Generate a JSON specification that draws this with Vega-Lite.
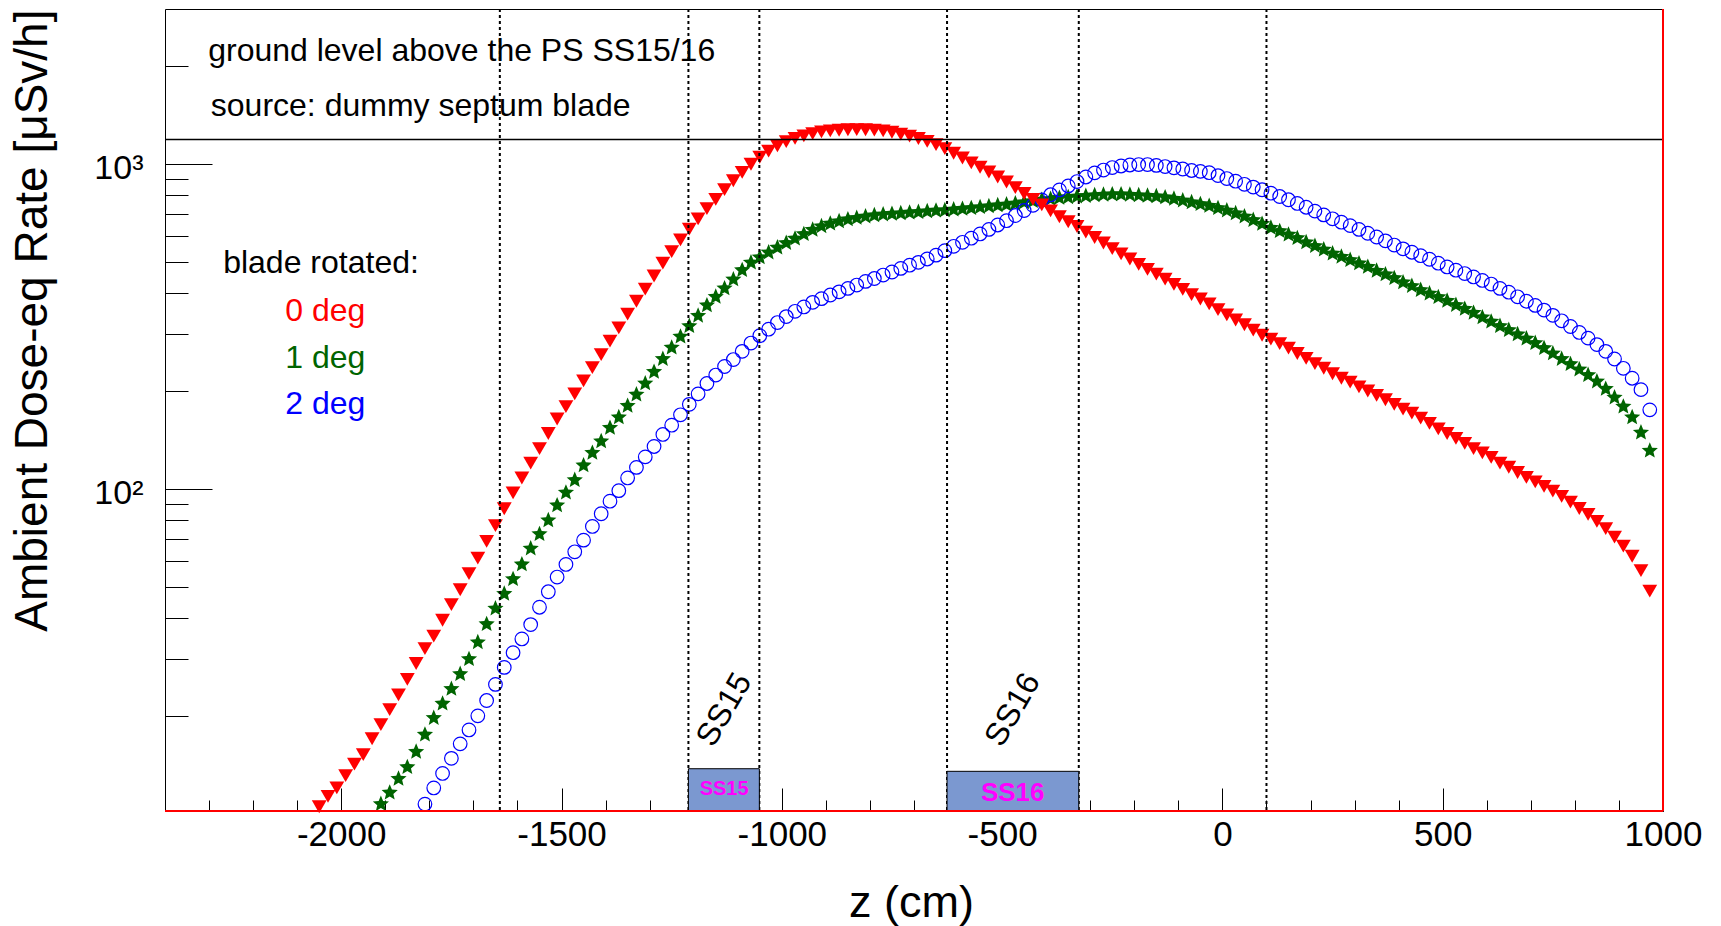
{
  "$schema": "https://vega.github.io/schema/vega-lite/v6.json",
  "width": 1498,
  "height": 802,
  "autosize": "none",
  "padding": {"left": 165, "top": 9, "right": 58, "bottom": 115},
  "background": "#ffffff",
  "config": {"view": {"stroke": "#000000", "strokeWidth": 1}, "font": "Liberation Sans"},
  "resolve": {"axis": {"x": "independent", "y": "independent"}},
  "datasets": {
    "red": [{"z":-2050,"v":10.5},{"z":-2030,"v":11.3},{"z":-2010,"v":12.0},{"z":-1990,"v":13.1},{"z":-1970,"v":14.2},{"z":-1950,"v":15.2},{"z":-1930,"v":17.0},{"z":-1910,"v":18.8},{"z":-1890,"v":20.9},{"z":-1870,"v":23.2},{"z":-1850,"v":25.9},{"z":-1830,"v":29.0},{"z":-1810,"v":32.2},{"z":-1790,"v":35.2},{"z":-1770,"v":39.4},{"z":-1750,"v":44.0},{"z":-1730,"v":48.9},{"z":-1710,"v":54.8},{"z":-1690,"v":61.2},{"z":-1670,"v":68.9},{"z":-1650,"v":77.0},{"z":-1630,"v":86.8},{"z":-1610,"v":97.2},{"z":-1590,"v":108},{"z":-1570,"v":120},{"z":-1550,"v":133},{"z":-1530,"v":148},{"z":-1510,"v":164},{"z":-1490,"v":179},{"z":-1470,"v":196},{"z":-1450,"v":215},{"z":-1430,"v":236},{"z":-1410,"v":259},{"z":-1390,"v":285},{"z":-1370,"v":313},{"z":-1350,"v":345},{"z":-1330,"v":378},{"z":-1310,"v":412},{"z":-1290,"v":452},{"z":-1270,"v":495},{"z":-1250,"v":537},{"z":-1230,"v":584},{"z":-1210,"v":630},{"z":-1190,"v":678},{"z":-1170,"v":729},{"z":-1150,"v":778},{"z":-1130,"v":834},{"z":-1110,"v":888},{"z":-1090,"v":942},{"z":-1070,"v":998},{"z":-1050,"v":1049},{"z":-1030,"v":1095},{"z":-1010,"v":1137},{"z":-990,"v":1172},{"z":-970,"v":1199},{"z":-950,"v":1221},{"z":-930,"v":1240},{"z":-910,"v":1255},{"z":-890,"v":1264},{"z":-870,"v":1270},{"z":-850,"v":1275},{"z":-830,"v":1276},{"z":-810,"v":1275},{"z":-790,"v":1271},{"z":-770,"v":1264},{"z":-750,"v":1252},{"z":-730,"v":1236},{"z":-710,"v":1218},{"z":-690,"v":1198},{"z":-670,"v":1174},{"z":-650,"v":1147},{"z":-630,"v":1115},{"z":-610,"v":1079},{"z":-590,"v":1043},{"z":-570,"v":1008},{"z":-550,"v":977},{"z":-530,"v":945},{"z":-510,"v":912},{"z":-490,"v":880},{"z":-470,"v":846},{"z":-450,"v":811},{"z":-430,"v":778},{"z":-410,"v":748},{"z":-390,"v":717},{"z":-370,"v":688},{"z":-350,"v":664},{"z":-330,"v":642},{"z":-310,"v":617},{"z":-290,"v":594},{"z":-270,"v":571},{"z":-250,"v":549},{"z":-230,"v":529},{"z":-210,"v":510},{"z":-190,"v":491},{"z":-170,"v":474},{"z":-150,"v":458},{"z":-130,"v":442},{"z":-110,"v":426},{"z":-90,"v":411},{"z":-70,"v":396},{"z":-50,"v":384},{"z":-30,"v":371},{"z":-10,"v":356},{"z":10,"v":343},{"z":30,"v":331},{"z":50,"v":320},{"z":70,"v":308},{"z":90,"v":297},{"z":110,"v":289},{"z":130,"v":280},{"z":150,"v":271},{"z":170,"v":261},{"z":190,"v":252},{"z":210,"v":243},{"z":230,"v":235},{"z":250,"v":226},{"z":270,"v":219},{"z":290,"v":213},{"z":310,"v":206},{"z":330,"v":200},{"z":350,"v":194},{"z":370,"v":188},{"z":390,"v":182},{"z":410,"v":176},{"z":430,"v":171},{"z":450,"v":165},{"z":470,"v":159},{"z":490,"v":153},{"z":510,"v":148},{"z":530,"v":143},{"z":550,"v":138},{"z":570,"v":133},{"z":590,"v":129},{"z":610,"v":125},{"z":630,"v":120},{"z":650,"v":116.5},{"z":670,"v":112.3},{"z":690,"v":108.4},{"z":710,"v":105},{"z":730,"v":101.7},{"z":750,"v":98.4},{"z":770,"v":94.8},{"z":790,"v":91},{"z":810,"v":87},{"z":830,"v":83.4},{"z":850,"v":79.4},{"z":870,"v":75.4},{"z":890,"v":71},{"z":910,"v":66.6},{"z":930,"v":62},{"z":950,"v":56},{"z":970,"v":48.4}],
    "green": [{"z":-1910,"v":10.7},{"z":-1890,"v":11.6},{"z":-1870,"v":12.8},{"z":-1850,"v":13.9},{"z":-1830,"v":15.5},{"z":-1810,"v":17.5},{"z":-1790,"v":19.7},{"z":-1770,"v":21.8},{"z":-1750,"v":24.2},{"z":-1730,"v":26.9},{"z":-1710,"v":29.9},{"z":-1690,"v":33.7},{"z":-1670,"v":38.3},{"z":-1650,"v":42.8},{"z":-1630,"v":47.5},{"z":-1610,"v":52.7},{"z":-1590,"v":58.5},{"z":-1570,"v":65.5},{"z":-1550,"v":72.5},{"z":-1530,"v":80},{"z":-1510,"v":88.9},{"z":-1490,"v":97.3},{"z":-1470,"v":106.4},{"z":-1450,"v":118},{"z":-1430,"v":129},{"z":-1410,"v":140},{"z":-1390,"v":154},{"z":-1370,"v":166},{"z":-1350,"v":180},{"z":-1330,"v":195},{"z":-1310,"v":211},{"z":-1290,"v":229},{"z":-1270,"v":251},{"z":-1250,"v":272},{"z":-1230,"v":294},{"z":-1210,"v":317},{"z":-1190,"v":341},{"z":-1170,"v":367},{"z":-1150,"v":390},{"z":-1130,"v":414},{"z":-1110,"v":441},{"z":-1090,"v":471},{"z":-1070,"v":497},{"z":-1050,"v":516},{"z":-1030,"v":534},{"z":-1010,"v":553},{"z":-990,"v":571},{"z":-970,"v":589},{"z":-950,"v":608},{"z":-930,"v":627},{"z":-910,"v":643},{"z":-890,"v":655},{"z":-870,"v":666},{"z":-850,"v":675},{"z":-830,"v":682},{"z":-810,"v":689},{"z":-790,"v":695},{"z":-770,"v":699},{"z":-750,"v":702},{"z":-730,"v":705},{"z":-710,"v":708},{"z":-690,"v":711},{"z":-670,"v":715},{"z":-650,"v":718},{"z":-630,"v":720},{"z":-610,"v":724},{"z":-590,"v":727},{"z":-570,"v":731},{"z":-550,"v":736},{"z":-530,"v":741},{"z":-510,"v":746},{"z":-490,"v":750},{"z":-470,"v":755},{"z":-450,"v":762},{"z":-430,"v":768},{"z":-410,"v":775},{"z":-390,"v":780},{"z":-370,"v":786},{"z":-350,"v":790},{"z":-330,"v":794},{"z":-310,"v":797},{"z":-290,"v":801},{"z":-270,"v":804},{"z":-250,"v":806},{"z":-230,"v":806},{"z":-210,"v":804},{"z":-190,"v":801},{"z":-170,"v":798},{"z":-150,"v":795},{"z":-130,"v":789},{"z":-110,"v":781},{"z":-90,"v":772},{"z":-70,"v":762},{"z":-50,"v":752},{"z":-30,"v":743},{"z":-10,"v":731},{"z":10,"v":719},{"z":30,"v":705},{"z":50,"v":689},{"z":70,"v":672},{"z":90,"v":654},{"z":110,"v":636},{"z":130,"v":621},{"z":150,"v":606},{"z":170,"v":591},{"z":190,"v":574},{"z":210,"v":559},{"z":230,"v":545},{"z":250,"v":530},{"z":270,"v":518},{"z":290,"v":506},{"z":310,"v":494},{"z":330,"v":482},{"z":350,"v":469},{"z":370,"v":457},{"z":390,"v":445},{"z":410,"v":432},{"z":430,"v":421},{"z":450,"v":409},{"z":470,"v":399},{"z":490,"v":389},{"z":510,"v":379},{"z":530,"v":368},{"z":550,"v":358},{"z":570,"v":348},{"z":590,"v":337},{"z":610,"v":327},{"z":630,"v":317},{"z":650,"v":308},{"z":670,"v":299},{"z":690,"v":290},{"z":710,"v":281},{"z":730,"v":271},{"z":750,"v":261},{"z":770,"v":251},{"z":790,"v":242},{"z":810,"v":233},{"z":830,"v":224},{"z":850,"v":214},{"z":870,"v":203},{"z":890,"v":191},{"z":910,"v":179},{"z":930,"v":166},{"z":950,"v":149},{"z":970,"v":131}],
    "blue": [{"z":-1810,"v":10.7},{"z":-1790,"v":12.0},{"z":-1770,"v":13.3},{"z":-1750,"v":14.8},{"z":-1730,"v":16.4},{"z":-1710,"v":18.1},{"z":-1690,"v":20.0},{"z":-1670,"v":22.3},{"z":-1650,"v":25.0},{"z":-1630,"v":28.2},{"z":-1610,"v":31.3},{"z":-1590,"v":34.5},{"z":-1570,"v":38.2},{"z":-1550,"v":43.2},{"z":-1530,"v":48.2},{"z":-1510,"v":53.5},{"z":-1490,"v":58.5},{"z":-1470,"v":64.0},{"z":-1450,"v":69.5},{"z":-1430,"v":76.6},{"z":-1410,"v":83.8},{"z":-1390,"v":91.6},{"z":-1370,"v":98.7},{"z":-1350,"v":108},{"z":-1330,"v":116.4},{"z":-1310,"v":125.4},{"z":-1290,"v":135},{"z":-1270,"v":147},{"z":-1250,"v":157},{"z":-1230,"v":169},{"z":-1210,"v":182},{"z":-1190,"v":196},{"z":-1170,"v":211},{"z":-1150,"v":224},{"z":-1130,"v":238},{"z":-1110,"v":250},{"z":-1090,"v":265},{"z":-1070,"v":281},{"z":-1050,"v":296},{"z":-1030,"v":310},{"z":-1010,"v":325},{"z":-990,"v":339},{"z":-970,"v":352},{"z":-950,"v":363},{"z":-930,"v":375},{"z":-910,"v":385},{"z":-890,"v":395},{"z":-870,"v":404},{"z":-850,"v":414},{"z":-830,"v":424},{"z":-810,"v":435},{"z":-790,"v":444},{"z":-770,"v":455},{"z":-750,"v":465},{"z":-730,"v":477},{"z":-710,"v":488},{"z":-690,"v":498},{"z":-670,"v":510},{"z":-650,"v":524},{"z":-630,"v":541},{"z":-610,"v":558},{"z":-590,"v":574},{"z":-570,"v":591},{"z":-550,"v":609},{"z":-530,"v":629},{"z":-510,"v":649},{"z":-490,"v":669},{"z":-470,"v":694},{"z":-450,"v":719},{"z":-430,"v":746},{"z":-410,"v":775},{"z":-390,"v":804},{"z":-370,"v":832},{"z":-350,"v":856},{"z":-330,"v":883},{"z":-310,"v":912},{"z":-290,"v":939},{"z":-270,"v":958},{"z":-250,"v":975},{"z":-230,"v":986},{"z":-210,"v":993},{"z":-190,"v":996},{"z":-170,"v":996},{"z":-150,"v":990},{"z":-130,"v":982},{"z":-110,"v":973},{"z":-90,"v":965},{"z":-70,"v":955},{"z":-50,"v":949},{"z":-30,"v":940},{"z":-10,"v":921},{"z":10,"v":902},{"z":30,"v":885},{"z":50,"v":866},{"z":70,"v":849},{"z":90,"v":833},{"z":110,"v":813},{"z":130,"v":794},{"z":150,"v":776},{"z":170,"v":756},{"z":190,"v":736},{"z":210,"v":716},{"z":230,"v":697},{"z":250,"v":678},{"z":270,"v":662},{"z":290,"v":646},{"z":310,"v":629},{"z":330,"v":612},{"z":350,"v":596},{"z":370,"v":580},{"z":390,"v":563},{"z":410,"v":548},{"z":430,"v":535},{"z":450,"v":522},{"z":470,"v":509},{"z":490,"v":495},{"z":510,"v":482},{"z":530,"v":471},{"z":550,"v":460},{"z":570,"v":449},{"z":590,"v":438},{"z":610,"v":427},{"z":630,"v":414},{"z":650,"v":403},{"z":670,"v":390},{"z":690,"v":378},{"z":710,"v":367},{"z":730,"v":355},{"z":750,"v":342},{"z":770,"v":329},{"z":790,"v":316},{"z":810,"v":303},{"z":830,"v":291},{"z":850,"v":278},{"z":870,"v":265},{"z":890,"v":251},{"z":910,"v":235},{"z":930,"v":219},{"z":950,"v":202},{"z":970,"v":175}],
    "vlines": [{"z":-1640},{"z":-1212},{"z":-1051},{"z":-625},{"z":-326},{"z":100}],
    "boxes": [{"n":"SS15","z1":-1212,"z2":-1051,"zc":-1131,"top":13.75,"mid":11.9,"lab":20.9},{"n":"SS16","z1":-625,"z2":-326,"zc":-476,"top":13.5,"mid":11.6,"lab":20.9}],
    "notes": [{"z":-2302,"v":2070,"t":"ground level above the PS SS15/16"},{"z":-2296,"v":1402,"t":"source: dummy septum blade"},{"z":-2268,"v":462,"t":"blade rotated:"}],
    "leg": [{"z":-2127,"v":329,"s":"0 deg"},{"z":-2127,"v":235.6,"s":"1 deg"},{"z":-2127,"v":169.4,"s":"2 deg"}]
  },
  "layer": [
    {
      "data": {"name": "green"},
      "mark": {"type": "point", "shape": "M0,-1L0.264,-0.364L0.951,-0.309L0.428,0.139L0.588,0.809L0,0.45L-0.588,0.809L-0.428,0.139L-0.951,-0.309L-0.264,-0.364Z", "filled": true, "color": "#006400", "size": 290, "opacity": 1, "strokeWidth": 0},
      "encoding": {
        "x": {"field": "z", "type": "quantitative", "scale": {"domain": [-2400, 1000], "nice": false, "zero": false},
          "axis": {
            "orient": "bottom",
            "title": "z (cm)",
            "values": [-2000, -1500, -1000, -500, 0, 500, 1000],
            "labelExpr": "'' + datum.value",
            "domain": false, "grid": false, "ticks": false,
            "labelFont": "Liberation Sans", "labelFontSize": 35, "labelColor": "#000000",
            "labelPadding": 6, "labelOverlap": false, "labelFlush": false, "labelBound": false,
            "titleFont": "Liberation Sans", "titleFontSize": 45, "titleFontWeight": "normal", "titleColor": "#000000",
            "titleX": 746, "titleY": 105, "titleBaseline": "alphabetic", "titleAlign": "center"
          }},
        "y": {"field": "v", "type": "quantitative", "scale": {"type": "log", "domain": [10.19, 3000], "nice": false},
          "axis": {
            "orient": "left",
            "title": "Ambient Dose-eq Rate [μSv/h]",
            "values": [100, 1000],
            "labelExpr": "datum.value === 100 ? '10²' : '10³'",
            "domain": false, "grid": false, "ticks": false,
            "labelFont": "Liberation Sans", "labelFontSize": 34, "labelColor": "#000000",
            "labelPadding": 22, "labelOffset": 5, "labelOverlap": false, "labelFlush": false, "labelBound": false, "labelBaseline": "middle", "labelAlign": "right",
            "titleFont": "Liberation Sans", "titleFontSize": 46, "titleFontWeight": "normal", "titleColor": "#000000",
            "titleX": -119, "titleY": 0, "titleAngle": 270, "titleAlign": "right", "titleBaseline": "alphabetic"
          }}
      }
    },
    {
      "data": {"name": "blue"},
      "mark": {"type": "point", "shape": "circle", "filled": false, "color": "#0000ff", "size": 185, "opacity": 1, "strokeWidth": 1.2},
      "encoding": {
        "x": {"field": "z", "type": "quantitative",
          "axis": {"orient": "bottom", "title": null, "labels": false, "domain": false, "grid": false, "ticks": true, "tickSize": -23, "tickColor": "#000000", "tickWidth": 1,
            "values": [-2000, -1500, -1000, -500, 0, 500, 1000]}},
        "y": {"field": "v", "type": "quantitative",
          "axis": {"orient": "left", "title": null, "labels": false, "domain": false, "grid": false, "ticks": true, "tickSize": -47, "tickColor": "#000000", "tickWidth": 1,
            "values": [100, 1000]}}
      }
    },
    {
      "data": {"name": "red"},
      "mark": {"type": "point", "shape": "triangle-down", "filled": true, "color": "#ff0000", "size": 220, "opacity": 1, "strokeWidth": 0},
      "encoding": {
        "x": {"field": "z", "type": "quantitative",
          "axis": {"orient": "bottom", "title": null, "labels": false, "domain": false, "grid": false, "ticks": true, "tickSize": -11, "tickColor": "#000000", "tickWidth": 1,
            "values": [-2300, -2200, -2100, -1900, -1800, -1700, -1600, -1400, -1300, -1200, -1100, -900, -800, -700, -600, -400, -300, -200, -100, 100, 200, 300, 400, 600, 700, 800, 900]}},
        "y": {"field": "v", "type": "quantitative",
          "axis": {"orient": "left", "title": null, "labels": false, "domain": false, "grid": false, "ticks": true, "tickSize": -23, "tickColor": "#000000", "tickWidth": 1,
            "values": [20, 30, 40, 50, 60, 70, 80, 90, 200, 300, 400, 500, 600, 700, 800, 900, 2000]}}
      }
    },
    {
      "data": {"values": [{}]},
      "mark": {"type": "rule", "color": "#000000", "strokeWidth": 1.5},
      "encoding": {"y": {"datum": 1190, "type": "quantitative", "axis": null}}
    },
    {
      "data": {"name": "vlines"},
      "mark": {"type": "rule", "color": "#000000", "strokeWidth": 2, "strokeDash": [3, 3]},
      "encoding": {"x": {"field": "z", "type": "quantitative", "axis": null}}
    },
    {
      "data": {"name": "boxes"},
      "mark": {"type": "rect", "fill": "#000000", "xOffset": 3, "yOffset": 3},
      "encoding": {
        "x": {"field": "z1", "type": "quantitative", "axis": null},
        "x2": {"field": "z2"},
        "y": {"field": "top", "type": "quantitative", "axis": null},
        "y2": {"datum": 10.19}
      }
    },
    {
      "data": {"name": "boxes"},
      "mark": {"type": "rect", "fill": "#7b98d0", "stroke": "#000000", "strokeWidth": 1},
      "encoding": {
        "x": {"field": "z1", "type": "quantitative", "axis": null},
        "x2": {"field": "z2"},
        "y": {"field": "top", "type": "quantitative", "axis": null},
        "y2": {"datum": 10.19}
      }
    },
    {
      "data": {"name": "boxes"},
      "transform": [{"filter": "datum.n === 'SS15'"}],
      "mark": {"type": "text", "font": "Liberation Sans", "fontWeight": "bold", "fontSize": 20, "color": "#ff00ff", "align": "center", "baseline": "middle"},
      "encoding": {
        "x": {"field": "zc", "type": "quantitative", "axis": null},
        "y": {"field": "mid", "type": "quantitative", "axis": null},
        "text": {"field": "n"}
      }
    },
    {
      "data": {"name": "boxes"},
      "transform": [{"filter": "datum.n === 'SS16'"}],
      "mark": {"type": "text", "font": "Liberation Sans", "fontWeight": "bold", "fontSize": 26, "color": "#ff00ff", "align": "center", "baseline": "middle"},
      "encoding": {
        "x": {"field": "zc", "type": "quantitative", "axis": null},
        "y": {"field": "mid", "type": "quantitative", "axis": null},
        "text": {"field": "n"}
      }
    },
    {
      "data": {"name": "boxes"},
      "mark": {"type": "text", "font": "Liberation Sans", "fontSize": 32, "color": "#000000", "align": "center", "baseline": "middle", "angle": 300},
      "encoding": {
        "x": {"field": "zc", "type": "quantitative", "axis": null},
        "y": {"field": "lab", "type": "quantitative", "axis": null},
        "text": {"field": "n"}
      }
    },
    {
      "data": {"name": "notes"},
      "mark": {"type": "text", "font": "Liberation Sans", "fontSize": 32, "color": "#000000", "align": "left", "baseline": "alphabetic"},
      "encoding": {
        "x": {"field": "z", "type": "quantitative", "axis": null},
        "y": {"field": "v", "type": "quantitative", "axis": null},
        "text": {"field": "t"}
      }
    },
    {
      "data": {"name": "leg"},
      "mark": {"type": "text", "font": "Liberation Sans", "fontSize": 32, "align": "left", "baseline": "alphabetic"},
      "encoding": {
        "x": {"field": "z", "type": "quantitative", "axis": null},
        "y": {"field": "v", "type": "quantitative", "axis": null},
        "text": {"field": "s"},
        "color": {"field": "s", "type": "nominal", "scale": {"domain": ["0 deg", "1 deg", "2 deg"], "range": ["#ff0000", "#006400", "#0000ff"]}, "legend": null}
      }
    },
    {
      "data": {"values": [{}]},
      "mark": {"type": "rule", "color": "#ff0000", "strokeWidth": 2},
      "encoding": {"x": {"datum": 1000, "type": "quantitative", "axis": null}}
    },
    {
      "data": {"values": [{}]},
      "mark": {"type": "rule", "color": "#ff0000", "strokeWidth": 2},
      "encoding": {"y": {"datum": 10.19, "type": "quantitative", "axis": null}}
    }
  ]
}
